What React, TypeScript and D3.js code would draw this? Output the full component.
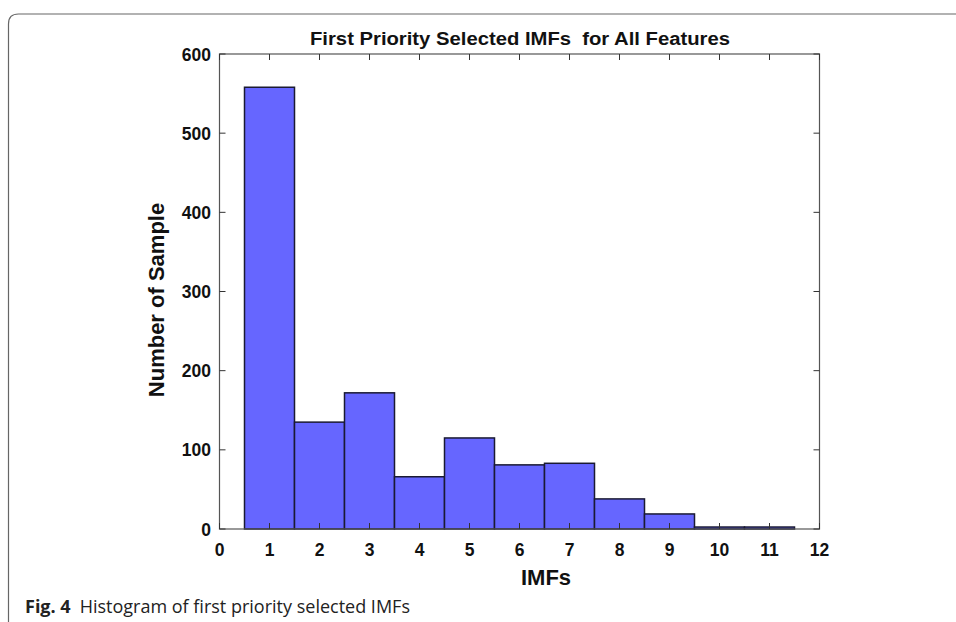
import React from "react";
import * as d3 from "d3";

const categories = [1, 2, 3, 4, 5, 6, 7, 8, 9, 10, 11];
const counts = [558, 135, 172, 66, 115, 81, 83, 38, 19, 2.5, 2.5];
const xTicks = [0, 1, 2, 3, 4, 5, 6, 7, 8, 9, 10, 11, 12];
const yTicks = [0, 100, 200, 300, 400, 500, 600];
const title = "First Priority Selected IMFs  for All Features";
const xLabel = "IMFs";
const yLabel = "Number of Sample";

export default function App() {
  const W = 956, H = 622;
  const left = 219.5, right = 819.5, top = 54, bottom = 529;
  const x = d3.scaleLinear().domain([0, 12]).range([left, right]);
  const y = d3.scaleLinear().domain([0, 600]).range([bottom, top]);
  const font = "Arial, 'Liberation Sans', sans-serif";
  const tickLen = 6;
  return (
    <svg width={W} height={H} style={{ position: "absolute", left: 0, top: 0, background: "#fff" }}>
      <path d={`M8.5,${H} L8.5,24 Q8.5,14 18.5,14 L${W},14`} fill="none" stroke="#666" strokeWidth={1.2} />
      {categories.map((c, i) => (
        <rect key={c} x={x(c - 0.5)} y={y(counts[i])} width={x(c + 0.5) - x(c - 0.5)} height={y(0) - y(counts[i])}
          fill="#6666ff" stroke="#1a1a33" strokeWidth={1.5} />
      ))}
      <rect x={left} y={top} width={right - left} height={bottom - top} fill="none" stroke="#555" strokeWidth={1.2} />
      {xTicks.map(t => (
        <g key={"x" + t}>
          <line x1={x(t)} x2={x(t)} y1={bottom} y2={bottom - tickLen} stroke="#333" strokeWidth={1} />
          <line x1={x(t)} x2={x(t)} y1={top} y2={top + tickLen} stroke="#333" strokeWidth={1} />
          <text x={x(t)} y={555.5} textAnchor="middle" fontFamily={font} fontWeight="bold" fontSize={17.5} fill="#111">{t}</text>
        </g>
      ))}
      {yTicks.map(t => (
        <g key={"y" + t}>
          <line x1={left} x2={left + tickLen} y1={y(t)} y2={y(t)} stroke="#333" strokeWidth={1} />
          <line x1={right} x2={right - tickLen} y1={y(t)} y2={y(t)} stroke="#333" strokeWidth={1} />
          <text x={211} y={y(t) + 6.5} textAnchor="end" fontFamily={font} fontWeight="bold" fontSize={17.5} fill="#111">{t}</text>
        </g>
      ))}
      <text x={520} y={45} textAnchor="middle" fontFamily={font} fontWeight="bold" fontSize={17.5} fill="#111"
        textLength={420} lengthAdjust="spacingAndGlyphs" style={{ whiteSpace: "pre" }}>{title}</text>
      <text x={546} y={585} textAnchor="middle" fontFamily={font} fontWeight="bold" fontSize={22} fill="#111">{xLabel}</text>
      <text transform={`translate(164,300) rotate(-90)`} textAnchor="middle" fontFamily={font} fontWeight="bold" fontSize={22} fill="#111">{yLabel}</text>
      <text x={25} y={613} fontFamily="'Open Sans', 'Noto Sans', sans-serif" fontSize={18} fill="#222">
        <tspan fontWeight="bold">Fig. 4</tspan>
        <tspan dx={9}>Histogram of first priority selected IMFs</tspan>
      </text>
    </svg>
  );
}
